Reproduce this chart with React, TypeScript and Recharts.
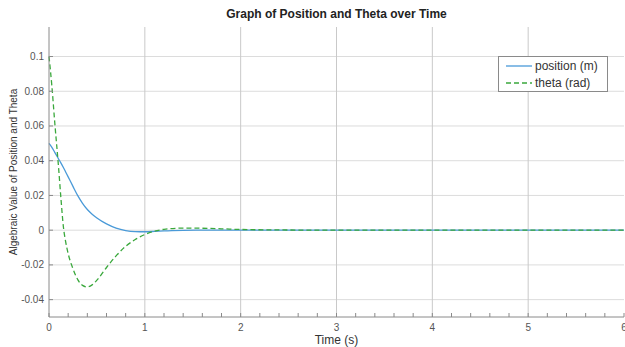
import { LineChart, Line, XAxis, YAxis, CartesianGrid, ReferenceLine } from "recharts";

const time = [0, 0.03, 0.06, 0.1, 0.125, 0.15, 0.175, 0.2, 0.25, 0.3, 0.35, 0.4, 0.45, 0.5, 0.6, 0.7, 0.8, 0.9, 1.0, 1.1, 1.2, 1.4, 1.6, 1.8, 2.0, 2.5, 3, 4, 5, 6];
const position = [0.05, 0.0477, 0.0448, 0.041, 0.0386, 0.0361, 0.0334, 0.0307, 0.0252, 0.0199, 0.0155, 0.0119, 0.0092, 0.007, 0.0036, 0.0012, -0.0002, -0.0008, -0.0009, -0.0007, -0.0004, -0.0001, 0, 0, 0, 0, 0, 0, 0, 0];
const theta = [0.1, 0.083, 0.062, 0.036, 0.018, 0.002, -0.007, -0.0135, -0.0222, -0.0285, -0.0318, -0.0327, -0.0315, -0.0288, -0.0215, -0.0148, -0.0093, -0.0054, -0.0025, -0.0006, 0.0005, 0.0012, 0.0011, 0.0008, 0.0004, 0.0001, 0, 0, 0, 0];

const xTicks = [0, 0.2, 0.4, 0.6, 0.8, 1, 1.2, 1.4, 1.6, 1.8, 2, 2.2, 2.4, 2.6, 2.8, 3, 3.2, 3.4, 3.6, 3.8, 4, 4.2, 4.4, 4.6, 4.8, 5, 5.2, 5.4, 5.6, 5.8, 6];
const xGrid = [1, 2, 3, 4, 5];
const yTicks = [-0.04, -0.02, 0, 0.02, 0.04, 0.06, 0.08, 0.1];

const data = time.map((t, i) => ({ t, position: position[i], theta: theta[i] }));

const FONT = '"Liberation Sans", Arial, sans-serif';
const TICK_COLOR = "#555";
const FRAME = "#8a8a8a";
const BLUE = "#4a9ad8";
const GREEN = "#3aa83c";
const TL = 4;

const BottomTick = (props: any) => {
  const { x, y, payload } = props;
  const v = payload.value;
  const major = Math.abs(v - Math.round(v)) < 1e-6;
  const axisY = y - 10;
  return (
    <g>
      <line x1={x} y1={axisY} x2={x} y2={axisY - TL} stroke={FRAME} />
      {major && (
        <text x={x} y={y} dy={4} textAnchor="middle" fontSize={10} fill={TICK_COLOR} fontFamily={FONT}>
          {Math.round(v)}
        </text>
      )}
    </g>
  );
};

const TopTick = (props: any) => {
  const { x, y } = props;
  return <line x1={x} y1={y} x2={x} y2={y + TL} stroke={FRAME} />;
};

const LeftTick = (props: any) => {
  const { x, y, payload } = props;
  return (
    <g>
      <line x1={x + 5} y1={y} x2={x + 5 + TL} y2={y} stroke={FRAME} />
      <text x={x} y={y} dy={3.5} textAnchor="end" fontSize={10} fill={TICK_COLOR} fontFamily={FONT}>
        {payload.value}
      </text>
    </g>
  );
};

const RightTick = (props: any) => {
  const { x, y } = props;
  return <line x1={x} y1={y} x2={x - TL} y2={y} stroke={FRAME} />;
};

export default function App() {
  return (
    <div style={{ position: "absolute", left: 0, top: 0, width: 625, height: 347, background: "#fff", fontFamily: FONT }}>
      <LineChart width={625} height={347} data={data} margin={{ top: 27, right: 1, bottom: 0, left: 9 }}>
        <CartesianGrid vertical={false} stroke="#dcdcdc" horizontalValues={yTicks} />
        {xGrid.map((g) => (
          <ReferenceLine key={g} x={g} stroke="#c9c9c9" />
        ))}
        <XAxis
          dataKey="t"
          type="number"
          domain={[0, 6]}
          ticks={xTicks}
          interval={0}
          height={30}
          tickSize={0}
          tickMargin={10}
          tickLine={false}
          axisLine={{ stroke: FRAME }}
          tick={<BottomTick />}
        />
        <XAxis
          xAxisId="top"
          orientation="top"
          dataKey="t"
          type="number"
          domain={[0, 6]}
          ticks={xTicks}
          interval={0}
          height={0}
          tickSize={0}
          tickMargin={0}
          tickLine={false}
          axisLine={{ stroke: FRAME }}
          tick={<TopTick />}
        />
        <YAxis
          type="number"
          domain={[-0.05, 0.117]}
          allowDataOverflow
          ticks={yTicks}
          interval={0}
          width={40}
          tickSize={0}
          tickMargin={5}
          tickLine={false}
          axisLine={{ stroke: FRAME }}
          tick={<LeftTick />}
        />
        <YAxis
          yAxisId="right"
          orientation="right"
          type="number"
          domain={[-0.05, 0.117]}
          allowDataOverflow
          ticks={yTicks}
          interval={0}
          width={0}
          tickSize={0}
          tickMargin={0}
          tickLine={false}
          axisLine={{ stroke: FRAME }}
          tick={<RightTick />}
        />
        <Line
          type="monotone"
          dataKey="position"
          stroke={BLUE}
          strokeWidth={1.3}
          dot={false}
          isAnimationActive={false}
        />
        <Line
          type="monotone"
          dataKey="theta"
          stroke={GREEN}
          strokeWidth={1.3}
          strokeDasharray="5 3"
          dot={false}
          isAnimationActive={false}
        />
      </LineChart>

      <div style={{ position: "absolute", left: 49, width: 575, top: 7, textAlign: "center", fontSize: 12, fontWeight: "bold", color: "#222" }}>
        Graph of Position and Theta over Time
      </div>
      <div style={{ position: "absolute", left: 49, width: 575, top: 333, textAlign: "center", fontSize: 12, color: "#333" }}>
        Time (s)
      </div>
      <div
        style={{
          position: "absolute",
          left: 13,
          top: 172,
          transform: "translate(-50%, -50%) rotate(-90deg)",
          whiteSpace: "nowrap",
          fontSize: 10,
          color: "#333",
        }}
      >
        Algebraic Value of Position and Theta
      </div>

      <div
        style={{
          position: "absolute",
          left: 498,
          top: 56,
          width: 108,
          height: 34,
          border: "1px solid #8a8a8a",
          background: "#fff",
          fontSize: 12,
          color: "#333",
        }}
      >
        <div style={{ position: "absolute", left: 7, top: 2, display: "flex", alignItems: "center", whiteSpace: "nowrap" }}>
          <svg width={29} height={14}>
            <line x1={0} y1={7} x2={26} y2={7} stroke={BLUE} strokeWidth={1.3} />
          </svg>
          <span>position (m)</span>
        </div>
        <div style={{ position: "absolute", left: 7, top: 19, display: "flex", alignItems: "center", whiteSpace: "nowrap" }}>
          <svg width={29} height={14}>
            <line x1={0} y1={7} x2={26} y2={7} stroke={GREEN} strokeWidth={1.3} strokeDasharray="5 3" />
          </svg>
          <span>theta (rad)</span>
        </div>
      </div>
    </div>
  );
}
